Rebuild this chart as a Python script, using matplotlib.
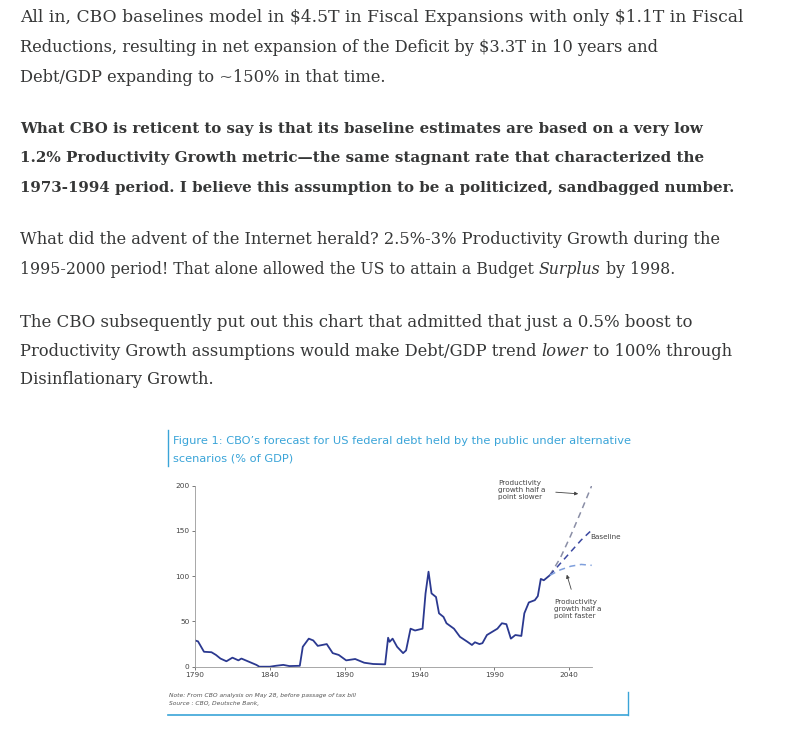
import matplotlib
matplotlib.use("Agg")
import matplotlib.pyplot as plt
from matplotlib.lines import Line2D

W, H = 788, 738

# historical debt held by public, % of GDP
hist_years = [1790, 1792, 1796, 1801, 1804, 1807, 1811, 1815, 1819, 1821, 1826, 1831, 1833, 1840,
              1844, 1849, 1853, 1860, 1862, 1866, 1869, 1872, 1878, 1882, 1886, 1891, 1897, 1903,
              1909, 1917, 1919, 1920, 1922, 1925, 1929, 1931, 1934, 1937, 1942, 1944, 1946, 1948,
              1951, 1953, 1956, 1958, 1963, 1967, 1972, 1975, 1977, 1980, 1982, 1985, 1989, 1992,
              1995, 1998, 2001, 2004, 2008, 2010, 2013, 2017, 2019, 2021, 2023, 2027]
hist_vals = [29, 28, 16.5, 16, 13, 9, 6, 10, 7, 9, 5.5, 2, 0, 0,
             1, 2, 0.7, 1, 22, 31, 29, 23, 25, 15, 13, 7, 8.5, 4.4,
             3, 2.6, 32, 27.5, 31, 22, 15, 18, 42, 40, 42, 81, 105, 81,
             77, 59, 55, 48, 42, 33, 27.5, 24, 27, 25, 26, 35, 39, 42,
             48, 47, 31, 35, 34, 59, 71, 73.5, 78, 97, 95.5, 101]

proj_years = [2027, 2034, 2041, 2048, 2055]
slower = [101, 120, 145, 172, 200]
baseline = [101, 114, 127, 140, 151]
faster = [101, 107, 111, 113, 112]

para = [
    [[("All in, CBO baselines model in $4.5T in Fiscal Expansions with only $1.1T in Fiscal", "normal", "normal")],
     [("Reductions, resulting in net expansion of the Deficit by $3.3T in 10 years and", "normal", "normal")],
     [("Debt/GDP expanding to ~150% in that time.", "normal", "normal")]],
    [[("What CBO is reticent to say is that its baseline estimates are based on a very low", "bold", "normal")],
     [("1.2% Productivity Growth metric\u2014the same stagnant rate that characterized the", "bold", "normal")],
     [("1973-1994 period. I believe this assumption to be a politicized, sandbagged number.", "bold", "normal")]],
    [[("What did the advent of the Internet herald? 2.5%-3% Productivity Growth during the", "normal", "normal")],
     [("1995-2000 period! That alone allowed the US to attain a Budget ", "normal", "normal"),
      ("Surplus", "normal", "italic"), (" by 1998.", "normal", "normal")]],
    [[("The CBO subsequently put out this chart that admitted that just a 0.5% boost to", "normal", "normal")],
     [("Productivity Growth assumptions would make Debt/GDP trend ", "normal", "normal"),
      ("lower", "normal", "italic"), (" to 100% through", "normal", "normal")],
     [("Disinflationary Growth.", "normal", "normal")]],
]
line_y = [[18, 47, 77], [129, 158, 188], [240, 270], [322, 351, 380]]
# right edge of each line in the reference; None = keep size of the line above
line_right = [[745, 662, None], [707, 709, 737], [727, 679], [697, 738, None]]

fig = plt.figure(figsize=(W / 100, H / 100), dpi=100)
fig.patch.set_facecolor("white")

def fx(px):
    return px / W

def fy(py):
    return 1 - py / H

renderer = fig.canvas.get_renderer()
for p, ys, rs in zip(para, line_y, line_right):
    fs = 12.3
    for runs, y, r in zip(p, ys, rs):
        if r is not None:
            # measure at base size, then scale so the line ends where it does in the reference
            total = 0
            for txt, wt, st in runs:
                t = fig.text(0, 0, txt, fontsize=12.3, family="DejaVu Serif", weight=wt,
                             style=st, parse_math=False)
                total += t.get_window_extent(renderer).width
                t.remove()
            fs = 12.3 * (r - 20) / total
        x = 20
        for txt, wt, st in runs:
            t = fig.text(fx(x), fy(y), txt, fontsize=fs, family="DejaVu Serif",
                         weight=wt, style=st, color="#363737", va="center", ha="left",
                         parse_math=False)
            x += t.get_window_extent(renderer).width

# chart frame decorations
blue = "#3aa4d8"
fig.add_artist(Line2D([fx(168), fx(168)], [fy(430), fy(466)], color=blue, lw=1))
fig.add_artist(Line2D([fx(168), fx(628)], [fy(715), fy(715)], color=blue, lw=1.2))
fig.add_artist(Line2D([fx(628), fx(628)], [fy(692), fy(715)], color=blue, lw=1))
fig.text(fx(173), fy(441), "Figure 1: CBO\u2019s forecast for US federal debt held by the public under alternative",
         fontsize=8.2, color=blue, va="center")
fig.text(fx(173), fy(458), "scenarios (% of GDP)", fontsize=8.2, color=blue, va="center")
fig.text(fx(169), fy(696), "Note: From CBO analysis on May 28, before passage of tax bill",
         fontsize=4.3, color="#555555", style="italic", va="center")
fig.text(fx(169), fy(704), "Source : CBO, Deutsche Bank,",
         fontsize=4.3, color="#555555", style="italic", va="center")

ax = fig.add_axes([fx(195), fy(666.7), fx(591.7) - fx(195), (666.7 - 485.7) / H])
ax.plot(hist_years, hist_vals, color="#2b3990", lw=1.3)
ax.plot(proj_years, slower, color="#8a8ea6", lw=1.1, ls=(0, (4, 3)))
ax.plot(proj_years, baseline, color="#3b48a0", lw=1.1, ls=(0, (4, 3)))
ax.plot(proj_years, faster, color="#7f9fdc", lw=1.1, ls=(0, (4, 3)))
ax.set_xlim(1790, 2055)
ax.set_ylim(0, 200)
ax.set_xticks([1790, 1840, 1890, 1940, 1990, 2040])
ax.set_yticks([0, 50, 100, 150, 200])
ax.tick_params(labelsize=5.3, colors="#444444", length=2, width=0.5, pad=2)
for s in ["top", "right"]:
    ax.spines[s].set_visible(False)
for s in ["left", "bottom"]:
    ax.spines[s].set_color("#999999")
    ax.spines[s].set_linewidth(0.6)
ax.set_facecolor("none")

fig.text(fx(498), fy(490), "Productivity\ngrowth half a\npoint slower", fontsize=5.2,
         color="#444444", va="center", linespacing=1.2)
ax.annotate("", xy=(fx(581), fy(494)), xytext=(fx(553), fy(492)), xycoords="figure fraction",
            textcoords="figure fraction", arrowprops=dict(arrowstyle="-|>", color="#444444", lw=0.6,
                                                          mutation_scale=5))
fig.text(fx(590), fy(537), "Baseline", fontsize=5.2, color="#444444", va="center")
fig.text(fx(554), fy(609), "Productivity\ngrowth half a\npoint faster", fontsize=5.2,
         color="#444444", va="center", linespacing=1.2)
ax.annotate("", xy=(fx(566), fy(572)), xytext=(fx(572), fy(592)), xycoords="figure fraction",
            textcoords="figure fraction", arrowprops=dict(arrowstyle="-|>", color="#444444", lw=0.6,
                                                          mutation_scale=5))

fig.savefig("out.png", dpi=100)
